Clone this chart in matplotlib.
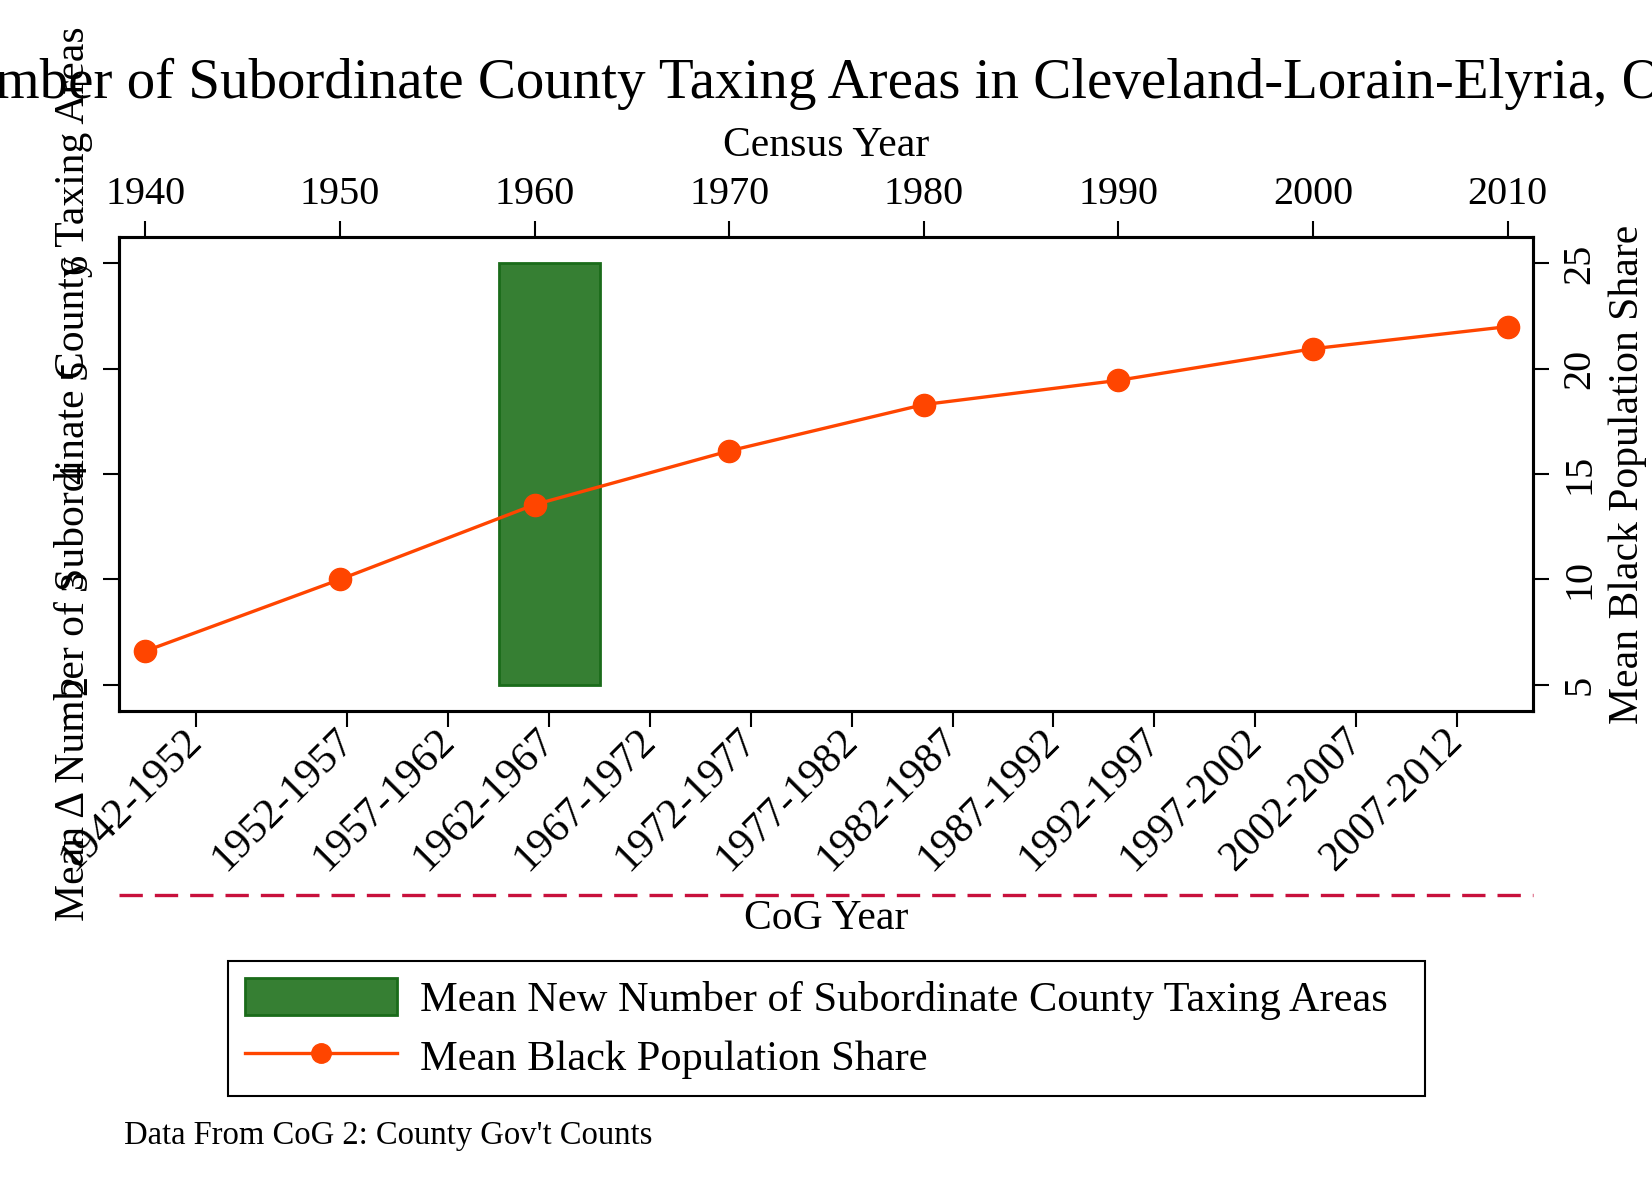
import numpy as np
import matplotlib.pyplot as plt
from matplotlib.patches import Patch
from matplotlib.lines import Line2D

plt.rcParams['font.family'] = ['Liberation Serif', 'DejaVu Serif']

# -------------------------------
# Data
# -------------------------------
census_years = [1940, 1950, 1960, 1970, 1980, 1990, 2000, 2010]
black_share = [6.6, 10.0, 13.55, 16.1, 18.3, 19.45, 20.95, 22.0]

cog_periods = [
    "1942-1952", "1952-1957", "1957-1962", "1962-1967", "1967-1972",
    "1972-1977", "1977-1982", "1982-1987", "1987-1992", "1992-1997",
    "1997-2002", "2002-2007", "2007-2012",
]
# only one period has a value
new_areas = [np.nan, np.nan, np.nan, 6, np.nan, np.nan, np.nan,
             np.nan, np.nan, np.nan, np.nan, np.nan, np.nan]

left_ticks = [2, 3, 4, 5, 6]
right_ticks = [5, 10, 15, 20, 25]

title = "Mean \u0394 Number of Subordinate County Taxing Areas in Cleveland-Lorain-Elyria, OH"

# colours
bar_fill = "#367F33"
bar_edge = "#1A6B1A"
line_col = "#FF4500"
dash_col = "#C8103C"

# midpoint of each CoG period
cog_mid = [(int(p[:4]) + int(p[5:])) / 2 for p in cog_periods]
bar_base = left_ticks[0]

# -------------------------------
# Plot setup
# -------------------------------
fig = plt.figure(figsize=(16.52, 12.01), dpi=100)
rect = [0.0721, 0.4079, 0.8558, 0.3947]
ax = fig.add_axes(rect)
ax2 = fig.add_axes(rect, label="census")
ax2.patch.set_visible(False)

fs = 29

# bars (bottom x / left y)
heights = [v - bar_base for v in new_areas]
ax.bar(cog_mid, heights, bottom=bar_base, width=5,
       color=bar_fill, edgecolor=bar_edge, linewidth=2)
ax.axhline(0, color=dash_col, lw=2.4, ls=(0, (7, 3.6)), clip_on=False)

ax.set_xlim(1943.19, 2013.26)
ax.set_ylim(1.75, 6.25)
ax.set_xticks(cog_mid)
ax.set_xticklabels(cog_periods, rotation=45, ha="right", va="center",
                   rotation_mode="anchor", fontsize=30.5)
ax.set_yticks(left_ticks)
ax.set_yticklabels([str(t) for t in left_ticks], rotation=90,
                   va="center", fontsize=fs)
ax.tick_params(direction="out", length=11.5, width=1.5, pad=6)
ax.set_xlabel("CoG Year", fontsize=30, va="baseline")
ax.xaxis.set_label_coords(0.5, -0.46)
ax.text(-0.032, 0.5, "Mean \u0394 Number of Subordinate County Taxing Areas",
        transform=ax.transAxes, rotation=90, ha="center", va="center",
        fontsize=30)

# line (top x / right y)
ax2.plot(census_years, black_share, color=line_col, lw=2.4,
         marker="o", markersize=16, zorder=5)
ax2.set_xlim(1938.65, 2011.3)
ax2.set_ylim(3.75, 26.25)
ax2.xaxis.tick_top()
ax2.xaxis.set_label_position("top")
ax2.yaxis.tick_right()
ax2.yaxis.set_label_position("right")
ax2.set_xticks(census_years)
ax2.set_xticklabels([str(y) for y in census_years], fontsize=fs)
ax2.set_yticks(right_ticks)
ax2.set_yticklabels([str(t) for t in right_ticks], rotation=90,
                    va="center", fontsize=fs)
ax2.tick_params(direction="out", length=11.5, width=1.5, pad=6)
ax2.tick_params(axis="y", pad=9)
ax2.set_xlabel("Census Year", fontsize=30, va="baseline")
ax2.xaxis.set_label_coords(0.5, 1.171)
ax2.set_ylabel("Mean Black Population Share", fontsize=30,
               rotation=90, va="center", ha="center")
ax2.yaxis.set_label_coords(1.067, 0.5)

for a in (ax, ax2):
    for s in a.spines.values():
        s.set_linewidth(2.2)

# -------------------------------
# Title, legend, note
# -------------------------------
fig.text(-263 / 1652, 1 - 98 / 1201, title, fontsize=41,
         ha="left", va="baseline")

handles = [
    Patch(facecolor=bar_fill, edgecolor=bar_edge, linewidth=2),
    Line2D([], [], color=line_col, lw=2.4, marker="o", markersize=14),
]
labels = ["Mean New Number of Subordinate County Taxing Areas",
          "Mean Black Population Share"]
leg = fig.legend(handles, labels, loc="center",
                 bbox_to_anchor=(0.1378, 0.101, 0.7245, 0.086), mode="expand",
                 fontsize=30.5, frameon=True, fancybox=False, framealpha=1,
                 edgecolor="black", handlelength=3.6, handleheight=1.0,
                 handletextpad=0.55, labelspacing=0.38, borderpad=0.4,
                 borderaxespad=0)
leg.get_frame().set_linewidth(1.5)

fig.text(124 / 1652, 1 - 1144 / 1201, "Data From CoG 2: County Gov't Counts",
         fontsize=23.5, ha="left", va="baseline")

fig.savefig("out.png", dpi=100)
